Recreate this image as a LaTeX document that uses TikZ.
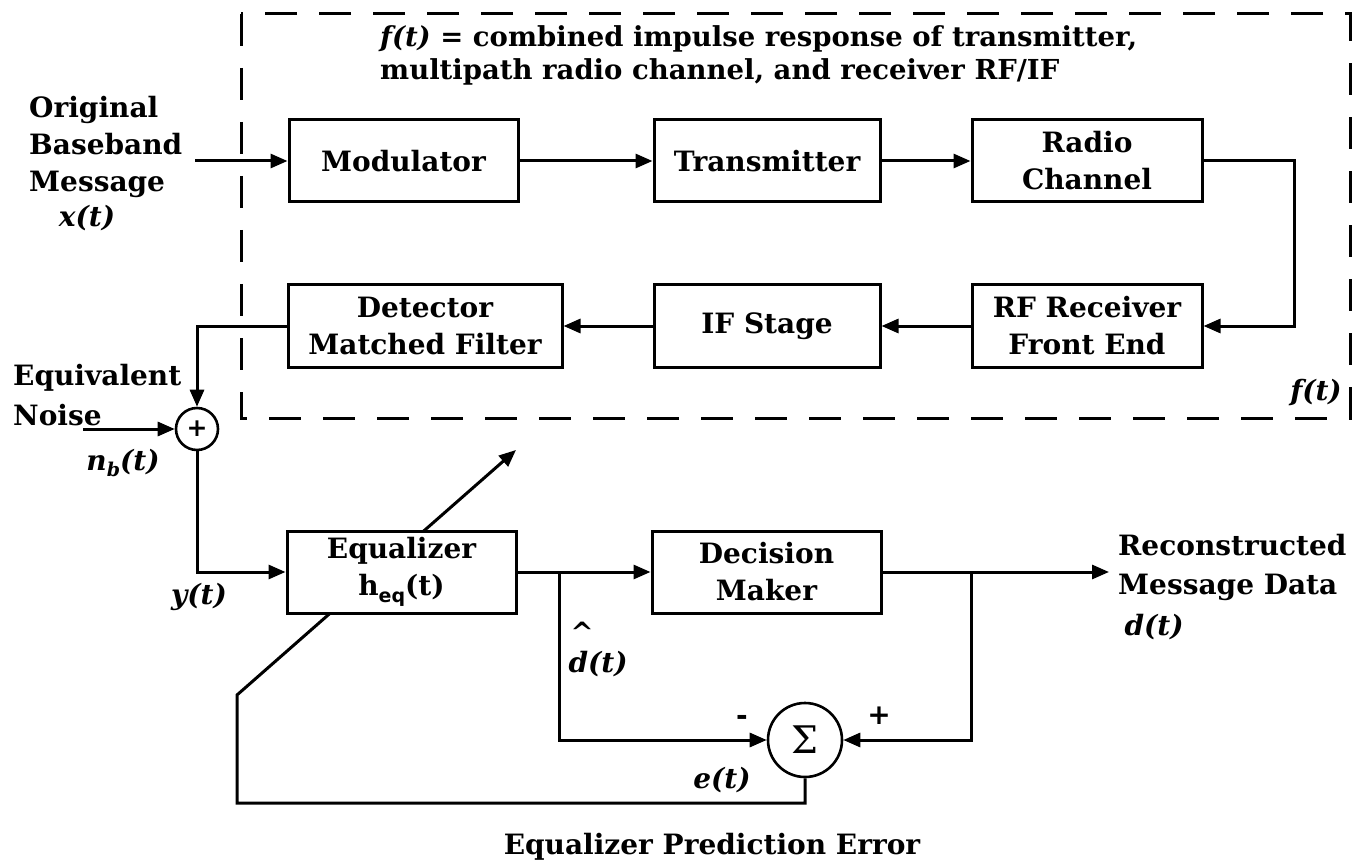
\documentclass[tikz,border=0pt]{standalone}
\usepackage{fontspec}
\setmainfont{DejaVu Serif}
\newfontfamily\sansb{DejaVu Sans}
\usetikzlibrary{arrows.meta,backgrounds}
\tikzset{
  wire/.style={line width=3pt},
  arr/.style={wire,-{Triangle[length=17pt,width=14pt]}},
  txt/.style={font=\bfseries\fontsize{28}{37}\selectfont, inner sep=0pt},
  blk/.style={txt, draw, line width=3pt, fill=white, minimum width=#1,
              minimum height=82pt, align=center},
  sumc/.style={draw, circle, line width=2.6pt, fill=white, inner sep=0pt},
  fbox/.style={line width=3pt, dash pattern=on 32pt off 22pt}
}
\begin{document}
\begin{tikzpicture}[x=1pt,y=-1pt]
\useasboundingbox (0,0) rectangle (1353,861);
% dashed enclosure
\draw[fbox] (241,14) rectangle (1350,418);
% blocks
\node[blk=229pt] (mod) at (403.5,161) {Modulator};
\node[blk=226pt] (tx)  at (767,161)   {Transmitter};
\node[blk=230pt] (rc)  at (1087,161)  {Radio\\Channel};
\node[blk=274pt, minimum height=83pt] (det) at (425,326) {Detector\\Matched Filter};
\node[blk=226pt, minimum height=83pt] (ifs) at (767,326) {IF Stage};
\node[blk=230pt, minimum height=83pt] (rf)  at (1087,326) {RF Receiver\\Front End};
\node[blk=229pt] (eq) at (401.5,572) {Equalizer\\h{\sansb\fontsize{19}{19}\selectfont\raisebox{-7pt}{eq}}(t)};
\node[blk=229pt] (dm) at (766.5,572) {Decision\\Maker};
\node[sumc, minimum size=42pt] (s1) at (197,429) {\sansb\bfseries\fontsize{25}{25}\selectfont +};
\node[sumc, minimum size=74pt] (sig) at (805,740) {\fontsize{38}{38}\selectfont Σ};
% coordinates
\coordinate (xin) at (195,161);
\coordinate (rcr) at (1294,161);
\coordinate (nin) at (83,429);
\coordinate (b1) at (559,572);
\coordinate (b2) at (971,572);
\coordinate (out) at (1109,572);
\coordinate (fb2) at (237,803);
\coordinate (fb3) at (237,695);
\coordinate (tip) at (516,450);
% connectors
\draw[arr] (xin) -- (mod.west);
\draw[arr] (mod.east) -- (tx.west);
\draw[arr] (tx.east) -- (rc.west);
\draw[arr] (rc.east) -- (rcr) |- (rf.east);
\draw[arr] (rf.west) -- (ifs.east);
\draw[arr] (ifs.west) -- (det.east);
\draw[arr] (det.west) -| (s1.north);
\draw[arr] (nin) -- (s1.west);
\draw[arr] (s1.south) |- (eq.west);
\draw[arr] (eq.east) -- (dm.west);
\draw[arr] (b1) |- (sig.west);
\draw[arr] (dm.east) -- (out);
\draw[arr] (b2) |- (sig.east);
\begin{pgfonlayer}{background}
\draw[arr] (sig.south) |- (fb2) -- (fb3) -- (tip);
\end{pgfonlayer}
% labels
\node[txt, anchor=north west, align=left, font=\bfseries\fontsize{27.5}{33}\selectfont] (title) at (380,25)
  {\textit{f(t)} = combined impulse response of transmitter,\\multipath radio channel, and receiver RF/IF};
\node[txt] (ft) at (1316,393) {\textit{f(t)}};
\node[txt, anchor=west, align=left] (orig) at (29,147) {Original\\Baseband\\Message};
\node[txt] (xt) at (87,218) {\textit{x(t)}};
\node[txt, anchor=west, align=left, font=\bfseries\fontsize{28}{40}\selectfont] (eqn) at (13,395) {Equivalent\\Noise};
\node[txt] (nb) at (123,463) {\textit{n}\raisebox{-6pt}{\fontsize{19}{19}\selectfont\textit{b}}\textit{(t)}};
\node[txt] (yt) at (199,597) {\textit{y(t)}};
\node[txt] (dh) at (598,664) {\textit{d(t)}};
\node[txt] (hat) at (582,632) {\textasciicircum};
\node[txt] (et) at (722,780) {\textit{e(t)}};
\node[txt, font=\sansb\bfseries\fontsize{28}{28}\selectfont] (minus) at (742,720) {-};
\node[txt, font=\sansb\bfseries\fontsize{28}{28}\selectfont] (plus) at (879,716) {+};
\node[txt, anchor=west, align=left, font=\bfseries\fontsize{28}{39}\selectfont] (rec) at (1118,567) {Reconstructed\\Message Data};
\node[txt] (dt) at (1154,627) {\textit{d(t)}};
\node[txt] (epe) at (712,847) {Equalizer Prediction Error};
\end{tikzpicture}
\end{document}
